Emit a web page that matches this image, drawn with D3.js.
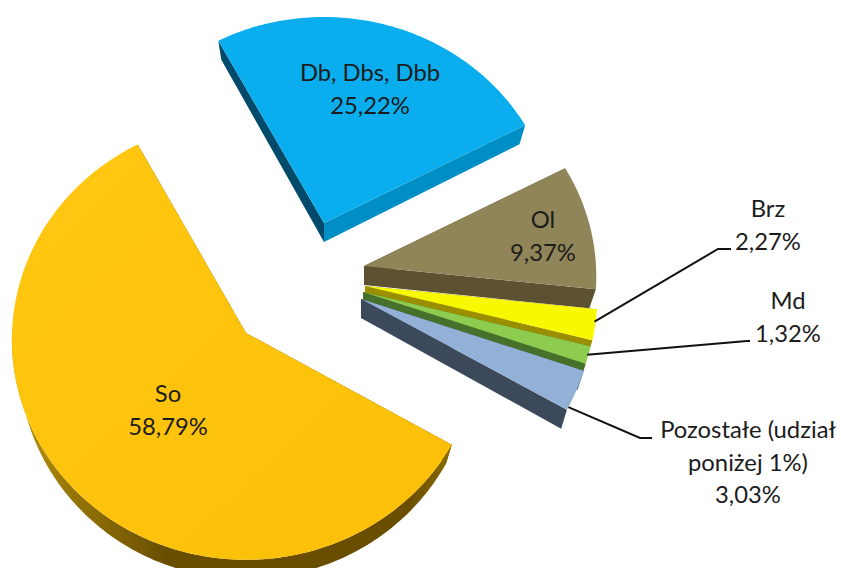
<!DOCTYPE html>
<html><head><meta charset="utf-8">
<script src="https://cdn.jsdelivr.net/npm/d3@7/dist/d3.min.js"></script>
<style>html,body{margin:0;padding:0;background:#fff}svg{display:block}text{font-family:Lato,"Noto Sans",sans-serif;fill:#1c1c1c}</style>
</head><body><svg id="c" width="841" height="568"></svg>
<script>
const categories = ["So","Db, Dbs, Dbb","Ol","Brz","Md","Pozostałe (udział poniżej 1%)"];
const labelLines = [["So"],["Db, Dbs, Dbb"],["Ol"],["Brz"],["Md"],["Pozostałe (udział","poniżej 1%)"]];
const shares = [58.79,25.22,9.37,2.27,1.32,3.03];
const valueLabels = ["58,79%","25,22%","9,37%","2,27%","1,32%","3,03%"];

// layout (presentation only)
const DEPTH=19, SHRINK=.972, FS=23.8, LH=32.5;
const apex=[[246,333],[324,223],[364,266],[365,286],[363,292],[361,299]];
const persp=[[234,220,.03],[232,216,.0485],[232,216,.0485],[232,216,.0485],[232,216,.0485],[232,216,.0485]];
const topCol=["url(#gSo)","#0aaeee","#8f8558","#f8f800","#8dcc4e","#93b1d7"];
const wall0=["#6a4e00","#004b6b","#5c5232","#9a8f00","#47702a","#3b495a"];
const wall1=["#6a4e00","#008fc4","#5c5232","#9a8f00","#47702a","#3b495a"];
const outerCol=["url(#gSoW)","#008fc4","#5c5232","#9a8f00","#47702a","#3b495a"];
const drawOrder=[1,0,2,3,4,5];
const labelPos=[[168,402],[370,81],[543,228],[768,217],[788,309],[748,438]];
const leaders=[null,null,null,
  {t:.4,r:.995,elbow:[718,249],end:[731,249]},
  {t:.5,r:.995,elbow:[747,341],end:[750,341]},
  {t:.93,r:1.0,elbow:[640,438],end:[652,438]}];

const svg=d3.select("#c");
const defs=svg.append("defs");
const grad=(id,stops,x2=1,y2=0)=>{const g=defs.append("linearGradient").attr("id",id).attr("x1",0).attr("y1",0).attr("x2",x2).attr("y2",y2);
  stops.forEach(([o,c])=>g.append("stop").attr("offset",o).attr("stop-color",c));};
grad("gSo",[[0,"#ffc812"],[.5,"#fec30c"],[1,"#fbbf06"]],1,1);
grad("gSoW",[[0,"#c09a10"],[.12,"#9a7808"],[.35,"#6a4e00"],[.9,"#6a4e00"],[1,"#8a6c04"]]);

const arcs=d3.pie().sort(null).startAngle(120*Math.PI/180).endAngle(480*Math.PI/180)(shares);
const project=(i,a,r=1)=>{const [rx,ry,k]=persp[i];const u=r*Math.sin(a),v=-r*Math.cos(a),w=1-k*v;
  return [apex[i][0]+rx*u/w, apex[i][1]+ry*v/w];};
const line=d3.line();
const samples=(a0,a1)=>{const n=Math.max(2,Math.ceil((a1-a0)*60));return d3.range(n+1).map(j=>a0+(a1-a0)*j/n);};

drawOrder.forEach(i=>{
  const d=arcs[i],g=svg.append("g"),A=apex[i];
  const down=p=>[A[0]+(p[0]-A[0])*SHRINK,p[1]+DEPTH];
  const p0=project(i,d.startAngle),p1=project(i,d.endAngle);
  g.append("path").attr("d",line([A,p0,down(p0),down(A)])+"Z").attr("fill",wall0[i]);
  const lo=Math.max(d.startAngle,Math.PI/2),hi=Math.min(d.endAngle,3*Math.PI/2);
  if(hi>lo){const pts=samples(lo,hi).map(a=>project(i,a));
    g.append("path").attr("d",line(pts.concat(pts.map(down).reverse()))+"Z").attr("fill",outerCol[i]);}
  g.append("path").attr("d",line([A,p1,down(p1),down(A)])+"Z").attr("fill",wall1[i]);
  g.append("path").attr("d",line([A].concat(samples(d.startAngle,d.endAngle).map(a=>project(i,a))))+"Z").attr("fill",topCol[i]);
});

leaders.forEach((l,i)=>{ if(!l) return;
  const d=arcs[i],a=d.startAngle+(d.endAngle-d.startAngle)*l.t;
  svg.append("path").attr("d",line([project(i,a,l.r),l.elbow,l.end])).attr("fill","none").attr("stroke","#111").attr("stroke-width",2);
});

categories.forEach((c,i)=>{
  const t=svg.append("text").attr("text-anchor","middle").attr("font-size",FS);
  labelLines[i].concat([valueLabels[i]]).forEach((s,j)=>
    t.append("tspan").attr("x",labelPos[i][0]).attr("y",labelPos[i][1]+j*LH).text(s));
});
</script></body></html>
